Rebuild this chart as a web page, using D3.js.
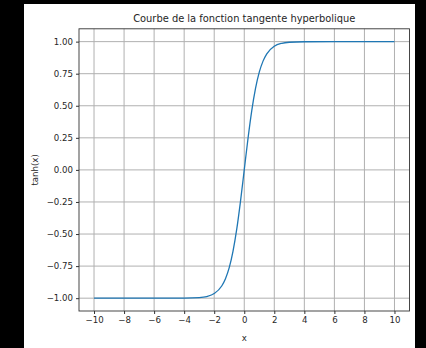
<!DOCTYPE html>
<html>
<head>
<meta charset="utf-8">
<script src="https://d3js.org/d3.v7.min.js"></script>
<style>
  html, body { margin: 0; padding: 0; background: #000; }
  svg { display: block; }
  text { font-family: "DejaVu Sans", sans-serif; fill: #262626; }
</style>
</head>
<body>
<svg width="426" height="348"></svg>
<script>
// values
const xs = [-10, -8, -6, -4, -3, -2.5, -2, -1.5, -1.25, -1, -0.75, -0.5, -0.25, 0,
            0.25, 0.5, 0.75, 1, 1.25, 1.5, 2, 2.5, 3, 4, 6, 8, 10];
const ys = [-1, -1, -1, -0.999, -0.995, -0.987, -0.964, -0.905, -0.848, -0.762, -0.635, -0.462, -0.245, 0,
            0.245, 0.462, 0.635, 0.762, 0.848, 0.905, 0.964, 0.987, 0.995, 0.999, 1, 1, 1];
const xTicks = [-10, -8, -6, -4, -2, 0, 2, 4, 6, 8, 10];
const yTicks = [-1, -0.75, -0.5, -0.25, 0, 0.25, 0.5, 0.75, 1];
const title = "Courbe de la fonction tangente hyperbolique";

const svg = d3.select("svg");
svg.append("rect").attr("x", 24).attr("y", 4).attr("width", 391).attr("height", 344).attr("fill", "#fff");

const pL = 79, pR = 409.5, pT = 28.8, pB = 311;
const x = d3.scaleLinear().domain([-11, 11]).range([pL, pR]);
const y = d3.scaleLinear().domain([-1.1, 1.1]).range([pB, pT]);
const fmtMinus = s => s.replace("-", "\u2212");

// grid
const grid = svg.append("g").attr("stroke", "#b0b0b0").attr("stroke-width", 1);
grid.selectAll(".gx").data(xTicks).enter().append("line")
    .attr("x1", d => x(d)).attr("x2", d => x(d)).attr("y1", pT).attr("y2", pB);
grid.selectAll(".gy").data(yTicks).enter().append("line")
    .attr("x1", pL).attr("x2", pR).attr("y1", d => y(d)).attr("y2", d => y(d));

// curve
const pts = xs.map((v, i) => [v, ys[i]]);
svg.append("path").datum(pts)
    .attr("fill", "none").attr("stroke", "#1f77b4").attr("stroke-width", 1.3)
    .attr("d", d3.line().x(d => x(d[0])).y(d => y(d[1])).curve(d3.curveMonotoneX));

// axes
const xAxis = svg.append("g").attr("transform", `translate(0,${pB})`)
    .call(d3.axisBottom(x).tickValues(xTicks).tickSize(3).tickPadding(3).tickFormat(d => fmtMinus(d3.format("d")(d))));
const yAxis = svg.append("g").attr("transform", `translate(${pL},0)`)
    .call(d3.axisLeft(y).tickValues(yTicks).tickSize(3).tickPadding(3).tickFormat(d => fmtMinus(d3.format(".2f")(d))));
[xAxis, yAxis].forEach(g => {
  g.select(".domain").remove();
  g.selectAll(".tick line").attr("stroke", "#333");
  g.selectAll(".tick text").attr("font-size", 8.6).attr("fill", "#262626")
    .attr("font-family", "DejaVu Sans, sans-serif");
});

svg.append("rect").attr("x", pL).attr("y", pT).attr("width", pR - pL).attr("height", pB - pT)
    .attr("fill", "none").attr("stroke", "#333").attr("stroke-width", 0.9);

// labels
svg.append("text").attr("x", (pL + pR) / 2).attr("y", 21.5).attr("text-anchor", "middle")
    .attr("font-size", 9.9).text(title);
svg.append("text").attr("x", (pL + pR) / 2).attr("y", 341).attr("text-anchor", "middle")
    .attr("font-size", 8.6).text("x");
svg.append("text").attr("transform", `translate(38,${(pT + pB) / 2}) rotate(-90)`)
    .attr("text-anchor", "middle").attr("font-size", 8.6).text("tanh(x)");
</script>
</body>
</html>
